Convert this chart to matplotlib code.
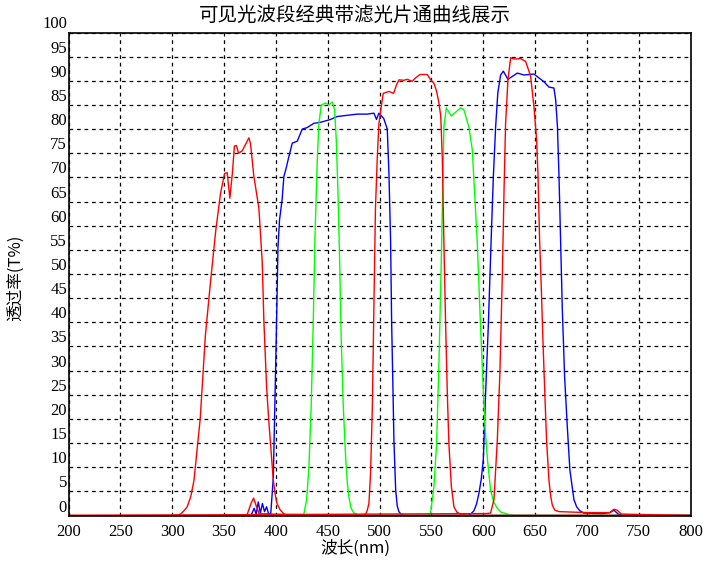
import matplotlib as mpl
mpl.use('Agg')
import matplotlib.pyplot as plt

# filter transmission curves (nm, T%)
red1_nm = [200, 300, 305, 308, 311, 314.5, 318, 321, 327, 332, 337, 342, 346.6, 350.5, 353, 355.6, 358,
           360, 362, 364, 367.5, 374, 375.5, 378.7, 383.6, 386.8, 388.4, 391, 393, 395.5, 397.5,
           399.5, 401, 404, 407, 410, 800]
red1_T = [0, 0, 0.1, 0.3, 0.9, 1.8, 4, 7.3, 20, 37.3, 48.5, 59, 66.7, 70.8, 71, 65.7, 70.8,
          76.5, 76.6, 75, 75.5, 78.2, 77, 70.3, 63.6, 52.5, 40.3, 26.7, 20, 12.9, 7.3,
          4.2, 2.5, 1.2, 0.5, 0, 0]

blue1_nm = [350, 395, 397.5, 399, 400.3, 401.3, 402, 403.5, 406, 407.7, 410, 412.5, 415.8, 420.6,
            425.4, 430, 436.6, 443, 452.7, 459, 478.5, 488, 494.5, 497, 499.3, 504, 507.4, 509,
            510.6, 511.6, 512.9, 513.8, 515.5, 517, 518.6, 521, 524, 800]
blue1_T = [0, 0.3, 7.8, 23, 36.3, 47.4, 55.5, 61.2, 65.4, 70.2, 72, 74.3, 77.1, 77.5,
           80, 80.3, 81.2, 81.4, 82, 82.6, 83.1, 83.1, 83.3, 82, 83.3, 82.2, 80, 70.8,
           57, 40, 26, 15.6, 5.3, 2, 0.8, 0.2, 0, 0]

green1_nm = [350, 424, 427, 429.6, 431.8, 434, 436, 437.6, 439, 440, 441.5, 443.8, 448, 451, 454.4,
             456.6, 458.2, 459.8, 461.4, 463, 465, 467.2, 468.8, 470.4, 472.5, 475.3, 480, 800]
green1_T = [0, 0, 0.3, 3.3, 9.8, 22.5, 39.8, 57, 67.4, 74.3, 81.2, 85, 85.4, 85, 85.6,
            84, 77.9, 67.4, 53.5, 36.3, 22.5, 12.2, 7, 3.8, 1.5, 0.5, 0, 0]

red2_nm = [200, 372, 376, 378.5, 381, 384, 484, 486.5, 488, 489.7, 491.3, 493, 494.5, 496, 497.8,
           499.3, 501.6, 503.5, 509, 513.5, 516.4, 518.6, 523.4, 526.7, 531.5, 534.6, 539, 546,
           549.2, 552.4, 555, 557.3, 559, 560.5, 562, 563.7, 565.3, 566.8, 569.2, 571.7, 574.5,
           578, 585, 800]
red2_T = [0, 0, 2.5, 3.6, 2, 0.3, 0, 0.3, 1, 2.5, 8.8, 22.5, 43.3, 63.6, 74.3,
          81, 84.7, 87.4, 87.8, 87.4, 89.2, 90.2, 90.1, 90.3, 89.9, 90.6, 91.3, 91.3,
          90.2, 89.5, 87.8, 85.3, 82.6, 73.7, 56.5, 39.1, 25.3, 14.9, 6, 1.8, 0.7,
          0.3, 0, 0]

green2_nm = [350, 545, 549, 552.4, 555, 557.3, 559.5, 560.8, 562, 564.3, 569.2, 578, 581.3, 586,
             589.4, 591.6, 594.2, 596.7, 599.4, 601.6, 604, 607, 610, 613.5, 617, 623, 630, 800]
green2_T = [0, 0, 0.3, 6, 15, 32.3, 53, 66.8, 80.5, 84.4, 82.7, 84.4, 84, 80.5,
            75.7, 66.8, 56.4, 42.6, 28.8, 18.4, 11.6, 5.3, 2.8, 1.5, 0.7, 0.3, 0, 0]

blue2_nm = [350, 376, 379, 381, 383, 385, 387, 389, 391, 393, 395, 585, 587.8, 591, 593.5, 595.8,
            598, 600, 602.2, 604.8, 606.4, 608, 609.7, 611.9, 614, 616.7, 619.3, 623.8, 632.8,
            639.2, 648.8, 658.5, 663.3, 668.1, 669.8, 671.5, 673, 674.6, 676.2, 678.4, 681,
            683.5, 687.4, 690, 693, 697, 715, 722, 726, 730, 735, 800]
blue2_T = [0, 0, 1.5, 0.3, 2.8, 0.5, 2.5, 0.8, 1.8, 0.3, 0, 0, 0.3, 1, 2.4, 4.6,
           7.5, 11.6, 25.2, 39.1, 49.5, 59.8, 70.2, 80.5, 87.5, 91.2, 92, 90.3, 91.6,
           91.2, 91.4, 89.8, 88.7, 88.5, 86, 80.5, 70.2, 56.4, 42.6, 28.8, 18.4,
           9.4, 3.3, 1.8, 1, 0.5, 0.4, 0.6, 1.1, 0.3, 0, 0]

red3_nm = [200, 603, 607, 610.3, 613.5, 616, 618.4, 620, 621.5, 623.8, 626.4, 629.6, 636, 640.8,
           645.6, 648.8, 651.4, 652.7, 654.3, 656, 657.5, 659.2, 661, 663.3, 665, 666.6, 669,
           673, 700, 722, 726, 729, 733, 800]
red3_T = [0, 0.4, 0.5, 3.3, 15.6, 29.5, 50.2, 67.4, 81.2, 90.3, 94.8, 94.5, 94.6, 94,
          91, 84.7, 77.8, 70.8, 57, 46.6, 36.3, 26, 15.6, 7.3, 4, 2.1, 1.1,
          0.8, 0.6, 0.6, 1.3, 1.1, 0.3, 0]

x_ticks = list(range(200, 801, 50))
y_ticks = list(range(0, 101, 5))

num_font = 'Liberation Serif'
cjk_font = ['Noto Sans CJK SC', 'DejaVu Sans']

fig = plt.figure(figsize=(7.15, 5.62), dpi=100)
ax = fig.add_axes([68.5 / 715, 46.5 / 562, (690.7 - 68.5) / 715, (515.5 - 32.5) / 562])

lw = 1.0
ax.plot(blue1_nm, blue1_T, color='#0000ff', lw=lw)
ax.plot(blue2_nm, blue2_T, color='#0000ff', lw=lw)
ax.plot(green1_nm, green1_T, color='#00ff00', lw=lw)
ax.plot(green2_nm, green2_T, color='#00ff00', lw=lw)
ax.plot(red1_nm, red1_T, color='#ff0000', lw=lw)
ax.plot(red2_nm, red2_T, color='#ff0000', lw=lw)
ax.plot(red3_nm, red3_T, color='#ff0000', lw=lw)

ax.set_xlim(200, 800)
ax.set_ylim(0, 100)
ax.set_xticks(x_ticks)
ax.set_yticks(y_ticks)
ax.set_xticklabels([str(v) for v in x_ticks], fontname=num_font, fontsize=12)
ax.set_yticklabels([str(v) for v in y_ticks], fontname=num_font, fontsize=12)
for lab in ax.get_yticklabels():
    lab.set_verticalalignment('bottom')
ax.tick_params(axis='both', length=0)
ax.tick_params(axis='y', pad=1)
ax.tick_params(axis='x', pad=6)
ax.grid(True, color='black', linestyle=(0, (3, 3)), linewidth=0.9)
for sp in ax.spines.values():
    sp.set_linewidth(1.2)

fig.text(0.497, 0.973, '可见光波段经典带滤光片通曲线展示', ha='center', va='center',
         family=cjk_font, fontsize=14)
fig.text(0.497, 0.025, '波长(nm)', ha='center', va='center', family=cjk_font, fontsize=12)
fig.text(0.021, 0.505, '透过率(T%)', ha='center', va='center', rotation=90,
         family=cjk_font, fontsize=12)

plt.savefig('out.png', dpi=100)
